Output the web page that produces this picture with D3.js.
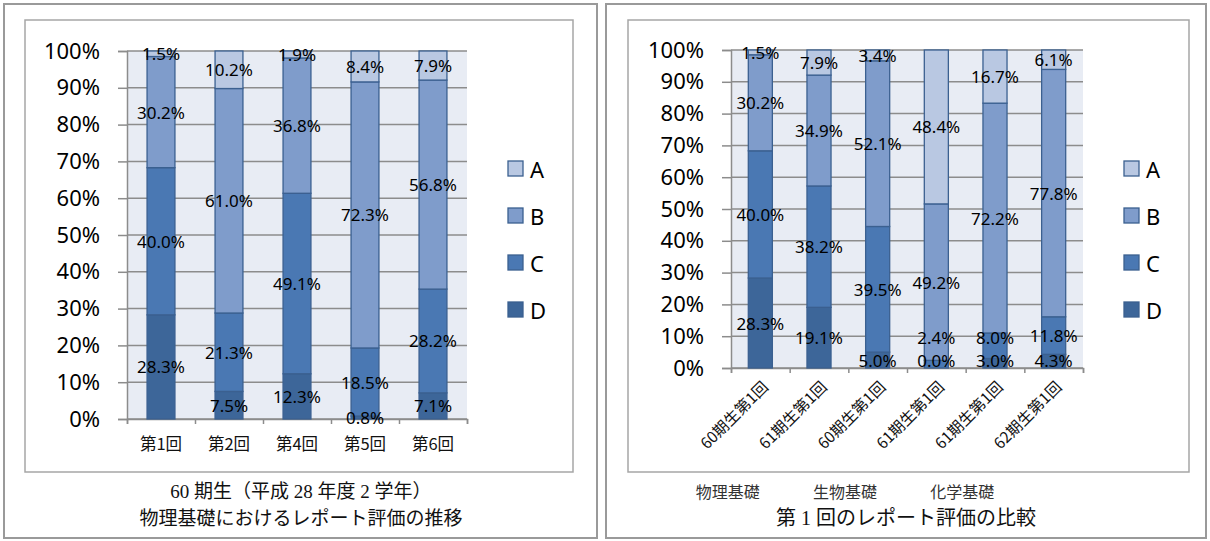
<!DOCTYPE html>
<html>
<head>
<meta charset="UTF-8">
<title>レポート評価</title>
<script src="https://d3js.org/d3.v7.min.js"></script>
<style>
  body { margin: 0; background: #fff; }
  svg text { font-family: "Noto Sans", "Noto Sans CJK JP", sans-serif; }
</style>
</head>
<body>
<div id="chart"></div>
<script>
// ---- data ----
var grades = ["A", "B", "C", "D"];
var gradeColors = ["#b9c8e2", "#7f9ccb", "#4a78b3", "#3d6699"];
var yTicks = [0, 10, 20, 30, 40, 50, 60, 70, 80, 90, 100];

// left: 60期生 物理基礎 per report
var leftCats = ["第1回", "第2回", "第4回", "第5回", "第6回"];
var leftA = [1.5, 10.2, 1.9, 8.4, 7.9];
var leftB = [30.2, 61.0, 36.8, 72.3, 56.8];
var leftC = [40.0, 21.3, 49.1, 18.5, 28.2];
var leftD = [28.3, 7.5, 12.3, 0.8, 7.1];

// right: first report compared across subjects / cohorts
var rightCats = ["60期生第1回", "61期生第1回", "60期生第1回", "61期生第1回", "61期生第1回", "62期生第1回"];
var rightA = [1.5, 7.9, 3.4, 48.4, 16.7, 6.1];
var rightB = [30.2, 34.9, 52.1, 49.2, 72.2, 77.8];
var rightC = [40.0, 38.2, 39.5, 2.4, 8.0, 11.8];
var rightD = [28.3, 19.1, 5.0, 0.0, 3.0, 4.3];
var subjects = ["物理基礎", "生物基礎", "化学基礎"];

var svg = d3.select("#chart").append("svg")
  .attr("width", 1210).attr("height", 541);

function rows(cats, a, b, c, d) {
  return cats.map(function (k, i) {
    return { cat: i, name: k, A: a[i], B: b[i], C: c[i], D: d[i] };
  });
}

function drawPanel(opt) {
  var g = svg.append("g");

  // outer frame + inner chart frame
  g.append("rect").attr("x", opt.outer[0]).attr("y", opt.outer[1])
    .attr("width", opt.outer[2] - opt.outer[0]).attr("height", opt.outer[3] - opt.outer[1])
    .attr("fill", "none").attr("stroke", "#9a9a9a").attr("stroke-width", 2);
  g.append("rect").attr("x", opt.inner[0]).attr("y", opt.inner[1])
    .attr("width", opt.inner[2] - opt.inner[0]).attr("height", opt.inner[3] - opt.inner[1])
    .attr("fill", "#fff").attr("stroke", "#a6a6a6").attr("stroke-width", 1.5);

  var x = d3.scaleBand().domain(d3.range(opt.data.length)).range([opt.x0, opt.x1]).paddingInner(0.59).paddingOuter(0.295);
  var xEdge = d3.scaleLinear().domain([0, opt.data.length]).range([opt.x0, opt.x1]);
  var y = d3.scaleLinear().domain([0, 100]).range([opt.y0, opt.y1]);

  // plot background + gridlines
  g.append("rect").attr("x", opt.x0).attr("y", opt.y1)
    .attr("width", opt.x1 - opt.x0).attr("height", opt.y0 - opt.y1).attr("fill", "#e8ecf4");
  g.selectAll(".grid").data(yTicks).enter().append("line")
    .attr("x1", opt.x0).attr("x2", opt.x1)
    .attr("y1", function (d) { return y(d); }).attr("y2", function (d) { return y(d); })
    .attr("stroke", "#8c8c8c").attr("stroke-width", 1.5);

  // y axis
  var ya = g.append("g").attr("transform", "translate(" + opt.x0 + ",0)")
    .call(d3.axisLeft(y).tickValues(yTicks).tickSize(9).tickPadding(18)
      .tickFormat(function (d) { return d + "%"; }));
  ya.selectAll("line, path").attr("stroke", "#8c8c8c").attr("stroke-width", 1.5);
  ya.selectAll("text").attr("fill", "#000").style("font-size", "22px")
    .style("font-family", "'Noto Sans', sans-serif");

  // x axis (boundary ticks)
  var xa = g.append("g").attr("transform", "translate(0," + opt.y0 + ")")
    .call(d3.axisBottom(xEdge).tickValues(d3.range(opt.data.length + 1)).tickSize(5).tickFormat(""));
  xa.selectAll("line, path").attr("stroke", "#8c8c8c").attr("stroke-width", 1.5);

  // stacked bars, bottom D up to A
  var stack = d3.stack().keys(["D", "C", "B", "A"]).offset(d3.stackOffsetExpand);
  var layers = stack(opt.data);
  layers.forEach(function (layer) {
    var col = gradeColors[grades.indexOf(layer.key)];
    g.selectAll(".bar-" + layer.key).data(layer).enter().append("rect")
      .attr("x", function (d, i) { return x(i); })
      .attr("width", x.bandwidth())
      .attr("y", function (d) { return y(d[1] * 100); })
      .attr("height", function (d) { return y(d[0] * 100) - y(d[1] * 100); })
      .attr("fill", col).attr("stroke", "#3b6090").attr("stroke-width", 1.3);
  });

  // data labels, centred in segments, pushed up if they collide
  opt.data.forEach(function (row, i) {
    var prev = null;
    layers.forEach(function (layer) {
      var s = layer[i];
      var ly = y((s[0] + s[1]) / 2 * 100);
      if (opt.clamp && ly > opt.y0 - 8) ly = opt.y0 - 8;
      if (prev !== null && prev - ly < 23) ly = prev - 23;
      prev = ly;
      g.append("text")
        .attr("x", x(i) + x.bandwidth() / 2).attr("y", ly)
        .attr("text-anchor", "middle").attr("dominant-baseline", "central")
        .style("font-size", "17px").attr("fill", "#000")
        .text(row[layer.key].toFixed(1) + "%");
    });
  });

  // category labels
  if (opt.rotate) {
    g.selectAll(".xl").data(opt.data).enter().append("text")
      .attr("transform", function (d, i) {
        return "translate(" + (x(i) + x.bandwidth() / 2 + 4) + "," + (opt.y0 + 15) + ") rotate(-45)";
      })
      .attr("text-anchor", "end").attr("dominant-baseline", "central")
      .style("font-size", "15.5px").style("font-family", "'Noto Sans CJK JP', sans-serif")
      .attr("fill", "#111")
      .text(function (d) { return d.name; });
  } else {
    g.selectAll(".xl").data(opt.data).enter().append("text")
      .attr("x", function (d, i) { return x(i) + x.bandwidth() / 2; })
      .attr("y", opt.y0 + 24)
      .attr("text-anchor", "middle").attr("dominant-baseline", "central")
      .style("font-size", "16.5px").style("font-family", "'Noto Sans CJK JP', sans-serif")
      .attr("fill", "#111")
      .text(function (d) { return d.name; });
  }

  // legend
  var lx = opt.inner[2] - 65;
  var lg = g.selectAll(".lg").data(grades).enter().append("g")
    .attr("transform", function (d, i) { return "translate(" + lx + "," + (168 + i * 47) + ")"; });
  lg.append("rect").attr("x", 0).attr("y", -7).attr("width", 15).attr("height", 15)
    .attr("fill", function (d, i) { return gradeColors[i]; })
    .attr("stroke", "#3b6090").attr("stroke-width", 1.3);
  lg.append("text").attr("x", 22).attr("y", 1).attr("dominant-baseline", "central")
    .style("font-size", "22px").attr("fill", "#000").text(function (d) { return d; });

  return { g: g, x: x, xEdge: xEdge };
}

var left = drawPanel({
  outer: [4, 4, 597, 538], inner: [25, 20, 573, 472],
  x0: 127, x1: 467, y0: 419, y1: 51,
  data: rows(leftCats, leftA, leftB, leftC, leftD), rotate: false, clamp: false
});
left.g.selectAll(".cap").data(["60 期生（平成 28 年度 2 学年）", "物理基礎におけるレポート評価の推移"])
  .enter().append("text")
  .attr("x", 301).attr("y", function (d, i) { return 491 + i * 27; })
  .attr("text-anchor", "middle").attr("dominant-baseline", "central")
  .style("font-size", "19px").style("font-family", "'Liberation Serif', 'Noto Sans CJK JP', serif")
  .attr("fill", "#111").text(function (d) { return d; });

var right = drawPanel({
  outer: [606, 4, 1206, 538], inner: [628, 20, 1189, 472],
  x0: 731, x1: 1083, y0: 368, y1: 50,
  data: rows(rightCats, rightA, rightB, rightC, rightD), rotate: true, clamp: true
});
// subject names under each pair of bars
right.g.selectAll(".subj").data(subjects).enter().append("text")
  .attr("x", function (d, i) { return right.xEdge(i * 2 + 1) - 62; })
  .attr("y", 491)
  .attr("text-anchor", "middle").attr("dominant-baseline", "central")
  .style("font-size", "16px").style("font-family", "'Noto Sans CJK JP', serif")
  .attr("fill", "#333").text(function (d) { return d; });
right.g.append("text")
  .attr("x", 906).attr("y", 518)
  .attr("text-anchor", "middle").attr("dominant-baseline", "central")
  .style("font-size", "20px").style("font-family", "'Liberation Serif', 'Noto Sans CJK JP', serif")
  .attr("fill", "#111").text("第 1 回のレポート評価の比較");
</script>
</body>
</html>
